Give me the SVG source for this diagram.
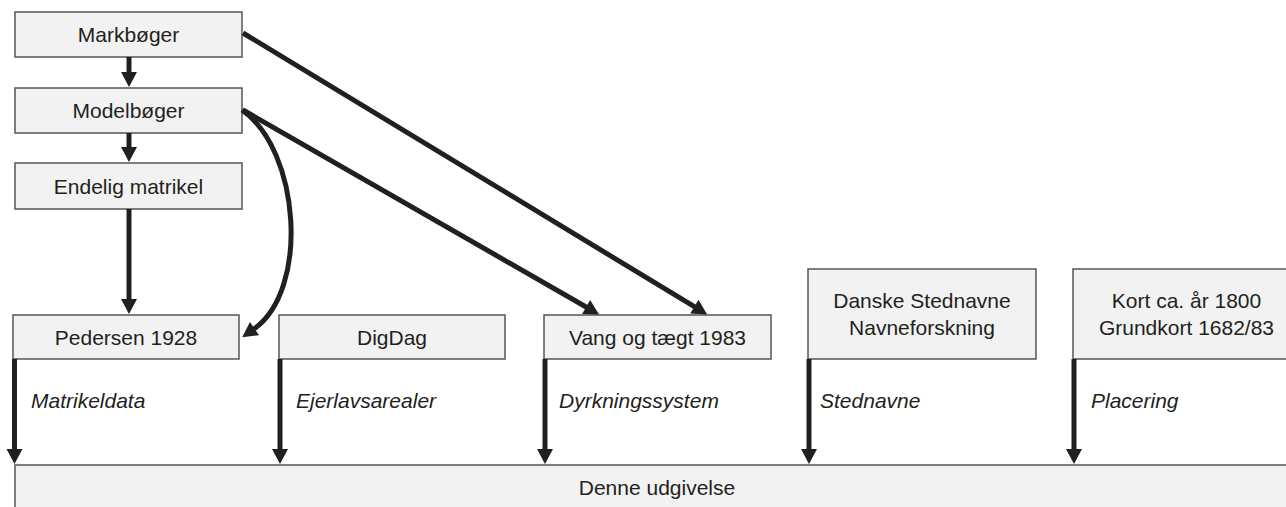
<svg xmlns="http://www.w3.org/2000/svg" width="1286" height="507" viewBox="0 0 1286 507">
<style>
.box{fill:#f1f2f1;stroke:#555;stroke-width:1.5}
.t{font-family:"Liberation Sans",Arial,sans-serif;font-size:21px;fill:#231f20;text-anchor:middle}
.l{font-family:"Liberation Sans",Arial,sans-serif;font-size:21px;fill:#231f20;font-style:italic}
.c{fill:none;stroke:#231f20;stroke-width:5}
</style>
<defs>
<marker id="ah" markerUnits="userSpaceOnUse" markerWidth="18" markerHeight="18" viewBox="0 -9 16 18" refX="1" refY="0" orient="auto">
<path d="M0,-8 L15,0 L0,8 z" fill="#231f20"/>
</marker>
</defs>
<g id="bottom"><rect class="box" x="15" y="465" width="1284" height="50"/><text class="t" x="657" y="495">Denne udgivelse</text></g>
<g id="markboger"><rect class="box" x="15" y="12" width="227" height="45"/><text class="t" x="128.5" y="42">Markbøger</text></g>
<g id="modelboger"><rect class="box" x="15" y="88" width="227" height="45"/><text class="t" x="128.5" y="118">Modelbøger</text></g>
<g id="endelig"><rect class="box" x="15" y="163" width="227" height="46"/><text class="t" x="128.5" y="193.5">Endelig matrikel</text></g>
<g id="pedersen"><rect class="box" x="13" y="315" width="226" height="44"/><text class="t" x="126" y="344.5">Pedersen 1928</text></g>
<g id="digdag"><rect class="box" x="279" y="315" width="226" height="44"/><text class="t" x="392" y="344.5">DigDag</text></g>
<g id="vang"><rect class="box" x="544" y="315" width="227" height="44"/><text class="t" x="657.5" y="344.5">Vang og tægt 1983</text></g>
<g id="stednavne"><rect class="box" x="808" y="269" width="228" height="90"/><text class="t" x="922" y="308">Danske Stednavne</text><text class="t" x="922" y="335">Navneforskning</text></g>
<g id="kort"><rect class="box" x="1073" y="269" width="227" height="90"/><text class="t" x="1186.5" y="308">Kort ca. år 1800</text><text class="t" x="1186.5" y="335">Grundkort 1682/83</text></g>
<g id="connectors">
<path class="c" d="M129,57 V73" marker-end="url(#ah)"/>
<path class="c" d="M129,133 V148" marker-end="url(#ah)"/>
<path class="c" d="M129,209 V300" marker-end="url(#ah)"/>
<path class="c" d="M243,33 L695.2,307.2" marker-end="url(#ah)"/>
<path class="c" d="M243,110 L587,307.5" marker-end="url(#ah)"/>
<path class="c" d="M242,110 C300,150 310,290 253.7,329.2" marker-end="url(#ah)"/>
<path class="c" d="M14.5,359 V450" marker-end="url(#ah)"/>
<path class="c" d="M280,359 V450" marker-end="url(#ah)"/>
<path class="c" d="M545,359 V450" marker-end="url(#ah)"/>
<path class="c" d="M809,359 V450" marker-end="url(#ah)"/>
<path class="c" d="M1074,359 V450" marker-end="url(#ah)"/>
<text class="l" x="31" y="408">Matrikeldata</text>
<text class="l" x="296" y="408">Ejerlavsarealer</text>
<text class="l" x="559" y="408">Dyrkningssystem</text>
<text class="l" x="820" y="408">Stednavne</text>
<text class="l" x="1091" y="408">Placering</text>
</g>
</svg>
